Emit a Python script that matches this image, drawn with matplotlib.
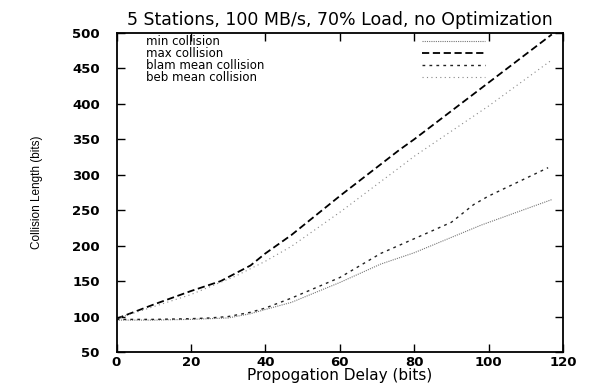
import numpy as np
import matplotlib
matplotlib.use("Agg")
import matplotlib.pyplot as plt

# Данные
delay_max = [0, 10, 20, 28, 36, 40, 47, 60, 76, 80, 100, 117]
max_collision = [97, 117, 136, 150, 172, 189, 215, 270, 335, 350, 430, 498]

delay_beb = [0, 10, 20, 32, 40, 47, 60, 76, 80, 100, 117]
beb_mean = [97, 114, 131, 157, 178, 199, 247, 310, 326, 397, 462]

delay_blam = [0, 10, 20, 25, 30, 36, 40, 47, 60, 71, 84, 90, 96, 100, 108, 116]
blam_mean = [96, 96, 97, 98, 100, 106, 112, 126, 155, 189, 219, 233, 258, 270, 290, 310]

delay_min = [0, 10, 20, 30, 36, 40, 47, 60, 71, 80, 98, 117]
min_collision = [95, 95, 96, 98, 104, 110, 120, 148, 174, 190, 229, 265]

labels = ["min collision", "max collision", "blam mean collision", "beb mean collision"]
x_ticks = [0, 20, 40, 60, 80, 100, 120]
y_ticks = [50, 100, 150, 200, 250, 300, 350, 400, 450, 500]

fig = plt.figure(figsize=(5.94, 3.85), dpi=100)
fig.subplots_adjust(left=116.5 / 594, right=563 / 594, top=1 - 33 / 385, bottom=1 - 352 / 385)
ax = fig.add_subplot(111)

l_min, = ax.plot(delay_min, min_collision, color="#777777", lw=0.8, linestyle=(0, (1, 1)))
l_max, = ax.plot(delay_max, max_collision, color="black", lw=1.3, linestyle=(0, (4, 2)))
l_blam, = ax.plot(delay_blam, blam_mean, color="#222222", lw=1.0, linestyle=(0, (2, 3)))
l_beb, = ax.plot(delay_beb, beb_mean, color="#888888", lw=0.8, linestyle=(0, (1, 3)))
handles = [l_min, l_max, l_blam, l_beb]

ax.set_xlim(0, 120)
ax.set_ylim(50, 500)
ax.set_xticks(x_ticks)
ax.set_yticks(y_ticks)
ax.tick_params(direction="in", length=6, width=1.0, top=True, right=True)
ax.tick_params(axis="y", pad=12)
ax.tick_params(axis="x", pad=3)
for lbl in ax.get_xticklabels() + ax.get_yticklabels():
    lbl.set_fontweight("bold")
    lbl.set_fontsize(9.5)
for sp in ax.spines.values():
    sp.set_linewidth(1.3)

ax.set_title("5 Stations, 100 MB/s, 70% Load, no Optimization", fontsize=12.5, pad=6)
ax.set_xlabel("Propogation Delay (bits)", fontsize=11, labelpad=-1)
ax.set_ylabel("Collision Length (bits)", fontsize=8.5, family="Liberation Sans")
ax.yaxis.set_label_coords(-0.165, 0.5)

# Легенда: подписи слева, образцы линий справа
leg_kw = dict(loc="upper left", frameon=False, fontsize=8.5, labelspacing=-0.1,
              borderpad=0.2, borderaxespad=0.0)
leg_text = ax.legend(handles, labels, bbox_to_anchor=(0.06, 1.0),
                     handlelength=0, handletextpad=0, **leg_kw)
for h in leg_text.legend_handles:
    h.set_visible(False)
ax.add_artist(leg_text)
ax.legend(handles, [""] * 4, bbox_to_anchor=(0.68, 1.0),
          handlelength=5.3, handletextpad=0, **leg_kw)

fig.savefig("out.png", dpi=100)
